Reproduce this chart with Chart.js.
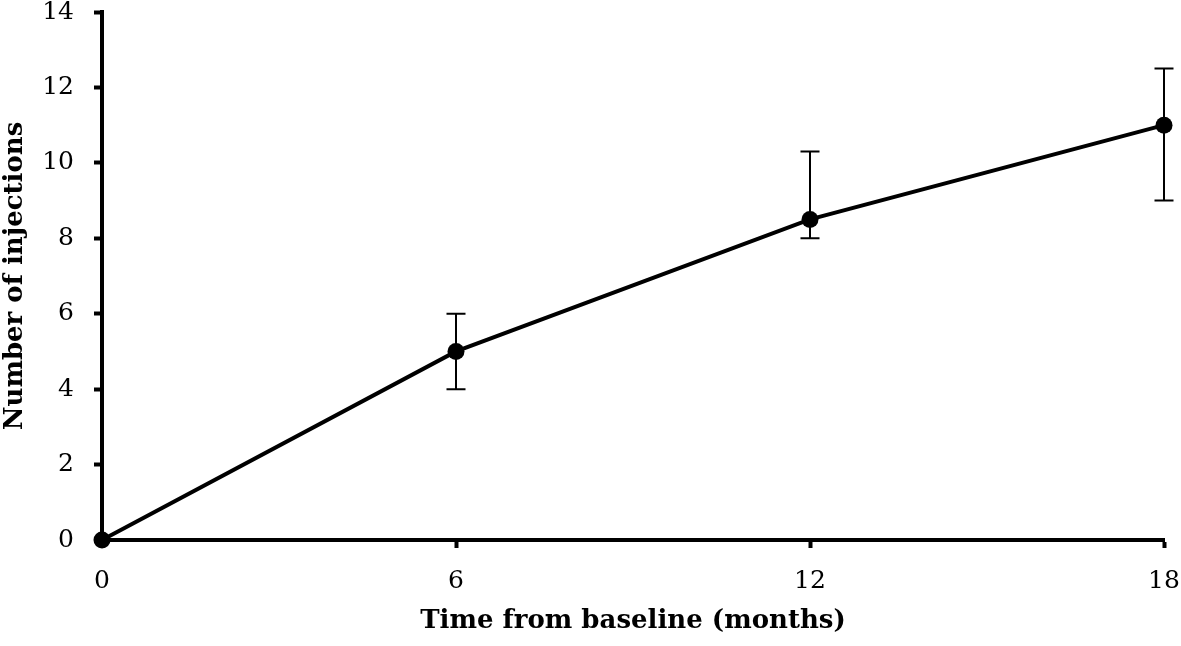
<!DOCTYPE html>
<html>
<head>
<meta charset="utf-8">
<script src="https://cdn.jsdelivr.net/npm/chart.js@4"></script>
<style>
  html, body { margin: 0; padding: 0; background: #fff; }
  #wrap { width: 1181px; height: 646px; }
</style>
</head>
<body>
<div id="wrap"><canvas id="myChart" width="1181" height="646"></canvas></div>
<script>
// chart data
var months = [0, 6, 12, 18];
var injections = [0, 5, 8.5, 11];
var errLow = [0, 4, 8, 9];
var errHigh = [0, 6, 10.3, 12.5];
var xTicks = [0, 6, 12, 18];
var yTicks = [0, 2, 4, 6, 8, 10, 12, 14];

var serif = "'DejaVu Serif', 'Liberation Serif', serif";

// error bars drawn from the y scale
var errorBars = {
    id: 'errorBars',
    beforeDatasetsDraw: function (chart) {
        var ctx = chart.ctx;
        var xs = chart.scales.x, ys = chart.scales.y;
        ctx.save();
        ctx.strokeStyle = '#000';
        ctx.lineWidth = 2;
        for (var i = 0; i < months.length; i++) {
            if (errHigh[i] === errLow[i]) continue;
            var x = xs.getPixelForValue(months[i]);
            var y1 = ys.getPixelForValue(errLow[i]);
            var y2 = ys.getPixelForValue(errHigh[i]);
            ctx.beginPath();
            ctx.moveTo(x, y1); ctx.lineTo(x, y2);
            ctx.moveTo(x - 9.5, y1); ctx.lineTo(x + 9.5, y1);
            ctx.moveTo(x - 9.5, y2); ctx.lineTo(x + 9.5, y2);
            ctx.stroke();
        }
        ctx.restore();
    }
};

var ctx = document.getElementById('myChart').getContext('2d');
var myChart = new Chart(ctx, {
    type: 'line',
    data: {
        datasets: [{
            data: months.map(function (m, i) { return { x: m, y: injections[i] }; }),
            borderColor: '#000',
            backgroundColor: '#000',
            borderWidth: 4,
            pointRadius: 8.5,
            pointBackgroundColor: '#000',
            pointBorderWidth: 0,
            tension: 0,
            clip: false
        }]
    },
    options: {
        responsive: false,
        animation: false,
        layout: { padding: { left: 0, right: 17, top: 12, bottom: 0 } },
        plugins: {
            legend: { display: false },
            tooltip: { enabled: false }
        },
        scales: {
            x: {
                type: 'linear',
                min: 0,
                max: 18,
                afterFit: function (s) {
                    s.height = 106;
                    s.paddingLeft = 0;
                    s.paddingRight = 0;
                },
                afterBuildTicks: function (s) { s.ticks = xTicks.map(function (v) { return { value: v }; }); },
                grid: { drawOnChartArea: false, tickLength: 8, tickColor: '#000', tickWidth: 4 },
                border: { color: '#000', width: 4 },
                ticks: { color: '#000', font: { family: serif, size: 25 }, padding: 18, maxRotation: 0 },
                title: {
                    display: true,
                    text: 'Time from baseline (months)',
                    color: '#000',
                    font: { family: serif, size: 26, weight: 'bold' },
                    padding: { top: 10, bottom: 9 }
                }
            },
            y: {
                min: 0,
                max: 14,
                afterFit: function (s) {
                    s.width = 102;
                    s.paddingTop = 0;
                    s.paddingBottom = 0;
                },
                afterBuildTicks: function (s) { s.ticks = yTicks.map(function (v) { return { value: v }; }); },
                grid: { drawOnChartArea: false, tickLength: 8, tickColor: '#000', tickWidth: 4 },
                border: { color: '#000', width: 4 },
                ticks: { color: '#000', font: { family: serif, size: 25 }, padding: 20 },
                title: {
                    display: true,
                    text: 'Number of injections',
                    color: '#000',
                    font: { family: serif, size: 26, weight: 'bold' },
                    padding: { top: 0, bottom: 10 }
                }
            }
        }
    },
    plugins: [errorBars]
});
</script>
</body>
</html>
